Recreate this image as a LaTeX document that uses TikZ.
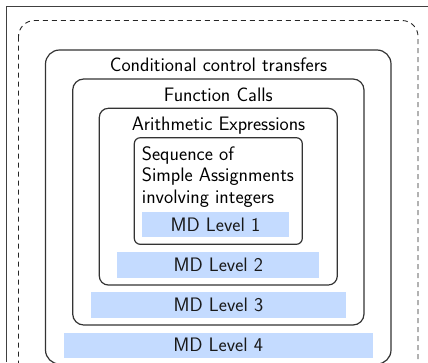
\documentclass[tikz,border=0pt]{standalone}
\definecolor{mdblue}{RGB}{196,219,255}
\begin{document}
\begin{tikzpicture}[x=1pt, y=-1pt, font=\sffamily\fontsize{19.5}{21.7}\selectfont,
    level/.style={draw=black!80, line width=1.2pt, rounded corners=#1},
    mdbar/.style={fill=mdblue, inner sep=0pt, text=black!90}]

        \useasboundingbox (0,0) rectangle (428,362);
        \clip (0,0) rectangle (428,362);

        % Frame
        \draw[black!75, line width=1pt] (6,362) -- (6,6) -- (428,6);

        % Outer dashed box
        \draw[black!85, line width=0.9pt, dash pattern=on 5pt off 4pt, rounded corners=16pt]
            (18.5,20.5) rectangle (418,392);

        % Nested levels
        \draw[level=14pt] (45.5,50) rectangle (391,364);
        \draw[level=11pt] (72.7,79) rectangle (364,325);
        \draw[level=9pt] (99.3,108.3) rectangle (337.3,285);
        \draw[level=6pt] (134.3,137.7) rectangle (302.3,244.3);

        % Level titles
        \node[anchor=base] (cond) at (218.5,71.7) {Conditional control transfers};
        \node[anchor=base] (func) at (218.3,101) {Function Calls};
        \node[anchor=base] (arith) at (218.5,130) {Arithmetic Expressions};
        \node[anchor=base west, inner sep=0pt] (seqa) at (141.7,160) {Sequence of};
        \node[anchor=base west, inner sep=0pt] (seqb) at (141.7,181.7) {Simple Assignments};
        \node[anchor=base west, inner sep=0pt] (seqc) at (141.7,203.3) {involving integers};

        % MD bars
        \node[mdbar, minimum width=147.3pt, minimum height=25pt] (md1) at (215.4,224.8) {MD Level 1};
        \node[mdbar, minimum width=202pt, minimum height=25.4pt] (md2) at (218.3,265) {MD Level 2};
        \node[mdbar, minimum width=255.3pt, minimum height=25.4pt] (md3) at (218.4,305) {MD Level 3};
        \node[mdbar, minimum width=309pt, minimum height=25pt] (md4) at (218.2,345.2) {MD Level 4};

    \end{tikzpicture}
\end{document}
